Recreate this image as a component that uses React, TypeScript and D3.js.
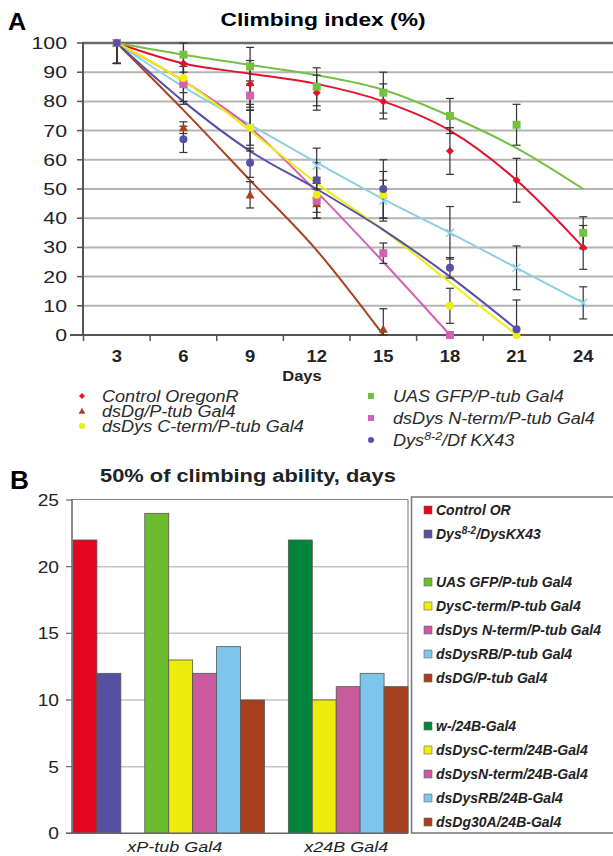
import React from "react";
import * as d3 from "d3";

// ---------- Panel A data (climbing index, %) ----------
const days = [3, 6, 9, 12, 15, 18, 21, 24];

const seriesNames = [
  "Control OregonR",
  "dsDg/P-tub Gal4",
  "dsDys C-term/P-tub Gal4",
  "UAS GFP/P-tub Gal4",
  "dsDys N-term/P-tub Gal4",
  "Dys8-2/Df KX43",
  "dsDysRB/P-tub Gal4",
];

// measured points (null = not measured)
const controlValues = [100, 93, 86, 83, 80, 63, 53, 30];
const dsDgValues = [100, 71, 48, 45, 2, null, null, null];
const cTermValues = [100, 88, 71, 48, 48, 10, 0, null];
const gfpValues = [100, 96, 92, 85, 83, 75, 72, 35];
const nTermValues = [100, 86, 82, 46, 28, 0, null, null];
const dysValues = [100, 67, 59, 53, 50, 23, 2, null];
const rbValues = [100, 86, 71, 58, 46, 35, 23, 11];

// error bar half widths
const controlErr = [7, 7, 8, 6, 6, 8, 7.5, 7.5];
const dsDgErr = [7, 2, 4.5, 5, 7, 0, 0, 0];
const cTermErr = [7, 5, 6, 6, 8, 6, 0, 0];
const gfpErr = [7, 6, 6.5, 6.5, 7, 6, 7, 5.5];
const nTermErr = [7, 6, 5, 6, 3.5, 0, 0, 0];
const dysErr = [7, 4.5, 5, 6, 10, 3.5, 10, 0];
const rbErr = [7, 7, 8, 6, 7, 9, 7.5, 5.5];

// trend lines at each day
const controlTrend = [100, 93, 89.5, 86, 80, 70, 53, 30];
const dsDgTrend = [100, 77, 53, 29, 0, null, null, null];
const cTermTrend = [100, 87, 70, 52, 36, 18, 0, null];
const gfpTrend = [100, 96, 92.5, 89, 84, 75, 64, 50];
const nTermTrend = [100, 87, 71, 49, 25, 0, null, null];
const dysTrend = [100, 80, 63, 50, 36, 20, 2, null];
const rbTrend = [100, 85, 72, 59, 46.5, 35, 23, 11];

const yTicksA = [0, 10, 20, 30, 40, 50, 60, 70, 80, 90, 100];

// ---------- Panel B data (50% of climbing ability, days) ----------
const groupLabels = ["xP-tub Gal4", "x24B Gal4"];
const barNames = [
  "Control OR",
  "Dys8-2/DysKX43",
  "",
  "UAS GFP/P-tub Gal4",
  "DysC-term/P-tub Gal4",
  "dsDys N-term/P-tub Gal4",
  "dsDysRB/P-tub Gal4",
  "dsDG/P-tub Gal4",
  "",
  "w-/24B-Gal4",
  "dsDysC-term/24B-Gal4",
  "dsDysN-term/24B-Gal4",
  "dsDysRB/24B-Gal4",
  "dsDg30A/24B-Gal4",
];
const barValues = [22, 12, null, 24, 13, 12, 14, 10, null, 22, 10, 11, 12, 11];
const barColors = [
  "#e2061f", "#55509f", "none", "#6cbd2e", "#eeec0a", "#c95a9e", "#7cc6ee", "#a7401e",
  "none", "#00863a", "#eeec0a", "#c95a9e", "#7cc6ee", "#a7401e",
];
const yTicksB = [0, 5, 10, 15, 20, 25];

// ---------- styles ----------
const C = {
  red: "#e3122c",
  brown: "#a8431c",
  yellow: "#eeee10",
  green: "#75c043",
  pink: "#d361b0",
  blue: "#5650a8",
  cyan: "#8ecfe0",
};
const FONT = "Liberation Sans, Arial, sans-serif";

type Series = {
  name: string;
  values: (number | null)[];
  err: number[];
  trend: (number | null)[];
  color: string;
  marker: string;
};

const series: Series[] = [
  { name: seriesNames[6], values: rbValues, err: rbErr, trend: rbTrend, color: C.cyan, marker: "x" },
  { name: seriesNames[0], values: controlValues, err: controlErr, trend: controlTrend, color: C.red, marker: "diamond" },
  { name: seriesNames[3], values: gfpValues, err: gfpErr, trend: gfpTrend, color: C.green, marker: "square" },
  { name: seriesNames[1], values: dsDgValues, err: dsDgErr, trend: dsDgTrend, color: C.brown, marker: "triangle" },
  { name: seriesNames[4], values: nTermValues, err: nTermErr, trend: nTermTrend, color: C.pink, marker: "square" },
  { name: seriesNames[2], values: cTermValues, err: cTermErr, trend: cTermTrend, color: C.yellow, marker: "circle" },
  { name: seriesNames[5], values: dysValues, err: dysErr, trend: dysTrend, color: C.blue, marker: "circle" },
];

// stretched text, the original fonts are wide
function T(props: any) {
  const { x, y, sx = 1.2, children, ...rest } = props;
  return (
    <g transform={`translate(${x},${y}) scale(${sx},1)`}>
      <text fontFamily={FONT} {...rest}>
        {children}
      </text>
    </g>
  );
}

function Marker({ type, x, y, color, s = 1 }: any) {
  if (type === "diamond") {
    const r = 4 * s;
    return <path d={`M${x},${y - r}L${x + r},${y}L${x},${y + r}L${x - r},${y}Z`} fill={color} />;
  }
  if (type === "square") {
    const r = 4 * s;
    return <rect x={x - r} y={y - r} width={2 * r} height={2 * r} fill={color} />;
  }
  if (type === "triangle") {
    const r = 4.5 * s;
    return <path d={`M${x},${y - r}L${x + r},${y + r * 0.8}L${x - r},${y + r * 0.8}Z`} fill={color} />;
  }
  if (type === "circle") {
    return <circle cx={x} cy={y} r={4 * s} fill={color} />;
  }
  const r = 4 * s;
  return (
    <path
      d={`M${x - r},${y - r}L${x + r},${y + r}M${x - r},${y + r}L${x + r},${y - r}`}
      stroke={color}
      strokeWidth={1.5}
    />
  );
}

function PanelA() {
  const x = d3.scaleBand<number>().domain(days).range([83.5, 616.5]);
  const y = d3.scaleLinear().domain([0, 100]).range([335, 43]);
  const cx = (d: number) => (x(d) as number) + x.bandwidth() / 2;

  const line = d3
    .line<[number, number | null]>()
    .defined((d) => d[1] !== null)
    .x((d) => cx(d[0]))
    .y((d) => y(d[1] as number))
    .curve(d3.curveMonotoneX);

  const left = [0, 1, 2];
  const right = [3, 4, 5];
  const leftY = [396, 411, 426];
  const rightY = [396, 418, 440];

  return (
    <g>
      <T x={8} y={30} sx={1.05} fontSize={24} fontWeight="bold">A</T>
      <T x={323} y={26} sx={1.2} fontSize={19} fontWeight="bold" textAnchor="middle">
        Climbing index (%)
      </T>

      {/* grid */}
      {yTicksA.map((t) => (
        <g key={t}>
          <line x1={83} x2={613} y1={y(t)} y2={y(t)} stroke={t === 100 ? "#6a6a6a" : "#b4b4b4"} strokeWidth={t === 100 ? 2.5 : 2} />
          <line x1={77} x2={83} y1={y(t)} y2={y(t)} stroke="#555" strokeWidth={1.5} />
          <T x={67} y={y(t) + 6} sx={1.25} fontSize={17} textAnchor="end" fill="#222">
            {t}
          </T>
        </g>
      ))}
      <line x1={83} x2={83} y1={42} y2={336} stroke="#555" strokeWidth={2} />
      <line x1={70} x2={613} y1={y(0)} y2={y(0)} stroke="#555" strokeWidth={2} />
      {days.map((d) => (
        <line key={d} x1={x(d)} x2={x(d)} y1={335} y2={341} stroke="#555" strokeWidth={1.5} />
      ))}
      {days.map((d) => (
        <T key={d} x={cx(d)} y={362} sx={1.15} fontSize={16} fontWeight="bold" textAnchor="middle" fill="#222">
          {d}
        </T>
      ))}
      <T x={302} y={381} sx={1.1} fontSize={15} fontWeight="bold" textAnchor="middle" fill="#222">Days</T>

      {/* trend lines */}
      {series.map((s) => (
        <path
          key={s.name + "t"}
          d={line(days.map((d, i) => [d, s.trend[i]]) as any) || ""}
          fill="none"
          stroke={s.color}
          strokeWidth={2}
        />
      ))}

      {/* error bars */}
      {series.map((s) =>
        days.map((d, i) => {
          const v = s.values[i];
          if (v === null || !s.err[i]) return null;
          const hi = Math.min(100, v + s.err[i]);
          const lo = Math.max(0, v - s.err[i]);
          return (
            <g key={s.name + d} stroke="#333" strokeWidth={1.2}>
              <line x1={cx(d)} x2={cx(d)} y1={y(hi)} y2={y(lo)} />
              {v + s.err[i] <= 100 && <line x1={cx(d) - 4} x2={cx(d) + 4} y1={y(hi)} y2={y(hi)} />}
              <line x1={cx(d) - 4} x2={cx(d) + 4} y1={y(lo)} y2={y(lo)} />
            </g>
          );
        })
      )}

      {/* markers */}
      {series.map((s) =>
        days.map((d, i) =>
          s.values[i] === null ? null : (
            <Marker key={s.name + "m" + d} type={s.marker} x={cx(d)} y={y(s.values[i] as number)} color={s.color} />
          )
        )
      )}

      {/* legend */}
      {left.map((k, i) => {
        const s = series.find((q) => q.name === seriesNames[k]) as Series;
        return (
          <g key={k}>
            <Marker type={s.marker} x={82} y={leftY[i]} color={s.color} s={0.75} />
            <T x={102} y={leftY[i] + 5.5} sx={1.13} fontSize={16} fontStyle="italic" fill="#2a2a2a">
              {s.name}
            </T>
          </g>
        );
      })}
      {right.map((k, i) => {
        const s = series.find((q) => q.name === seriesNames[k]) as Series;
        const yy = rightY[i];
        return (
          <g key={k}>
            <Marker type={s.marker} x={371} y={yy} color={s.color} s={0.75} />
            {k === 5 ? (
              <T x={393} y={yy + 5.5} sx={1.13} fontSize={16} fontStyle="italic" fill="#2a2a2a">
                Dys<tspan dy={-6} fontSize={11}>8-2</tspan>
                <tspan dy={6}>/Df KX43</tspan>
              </T>
            ) : (
              <T x={393} y={yy + 5.5} sx={1.13} fontSize={16} fontStyle="italic" fill="#2a2a2a">
                {s.name}
              </T>
            )}
          </g>
        );
      })}
    </g>
  );
}

function PanelB() {
  const slots = d3.range(barNames.length);
  const x = d3.scaleBand<number>().domain(slots).range([73, 408]);
  const y = d3.scaleLinear().domain([0, 25]).range([833.3, 500]);

  return (
    <g>
      <T x={10} y={489} sx={1.05} fontSize={25} fontWeight="bold">B</T>
      <T x={100} y={482} sx={1.15} fontSize={19} fontWeight="bold" fill="#222">
        50% of climbing ability, days
      </T>

      {/* plot frame and grid */}
      {yTicksB.map((t) => (
        <g key={t}>
          {t > 0 && t < 25 && <line x1={72} x2={408} y1={y(t)} y2={y(t)} stroke="#c4c4c4" strokeWidth={1.5} />}
          <line x1={66} x2={72} y1={y(t)} y2={y(t)} stroke="#666" strokeWidth={1.2} />
          <T x={59} y={y(t) + 6} sx={1.2} fontSize={16} textAnchor="end" fill="#222">
            {t}
          </T>
        </g>
      ))}
      <line x1={72} x2={408} y1={499.5} y2={499.5} stroke="#888" strokeWidth={1.2} />
      <line x1={408} x2={408} y1={499.5} y2={833} stroke="#888" strokeWidth={1.2} />

      {slots.map((i) =>
        barValues[i] === null ? null : (
          <rect
            key={i}
            x={x(i)}
            y={y(barValues[i] as number)}
            width={x.bandwidth()}
            height={y(0) - y(barValues[i] as number)}
            fill={barColors[i]}
            stroke="#555"
            strokeWidth={0.8}
          />
        )
      )}
      <line x1={72} x2={72} y1={499} y2={834} stroke="#666" strokeWidth={1.5} />
      <line x1={66} x2={408} y1={833.3} y2={833.3} stroke="#666" strokeWidth={1.5} />

      <T x={(x(4) as number) + 6} y={852} sx={1.2} fontSize={15} fontStyle="italic" textAnchor="middle" fill="#222">
        {groupLabels[0]}
      </T>
      <T x={(x(11) as number) + 10} y={852} sx={1.2} fontSize={15} fontStyle="italic" textAnchor="middle" fill="#222">
        {groupLabels[1]}
      </T>

      {/* legend box */}
      <rect x={411.5} y={497} width={210} height={336} fill="white" stroke="#777" strokeWidth={1.5} />
      {slots.map((i) =>
        barNames[i] === "" ? null : (
          <g key={i}>
            <rect x={424} y={506 + i * 24} width={8} height={8} fill={barColors[i]} stroke="#666" strokeWidth={0.6} />
            {i === 1 ? (
              <T x={436} y={515 + i * 24} sx={1.0} fontSize={14} fontWeight="bold" fontStyle="italic" fill="#222">
                Dys<tspan dy={-5} fontSize={10}>8-2</tspan>
                <tspan dy={5}>/DysKX43</tspan>
              </T>
            ) : (
              <T x={436} y={515 + i * 24} sx={1.0} fontSize={14} fontWeight="bold" fontStyle="italic" fill="#222">
                {barNames[i]}
              </T>
            )}
          </g>
        )
      )}
    </g>
  );
}

export default function App() {
  return (
    <svg width={613} height={856} style={{ position: "absolute", left: 0, top: 0, background: "white" }}>
      <rect width={613} height={856} fill="white" />
      <PanelA />
      <PanelB />
    </svg>
  );
}
